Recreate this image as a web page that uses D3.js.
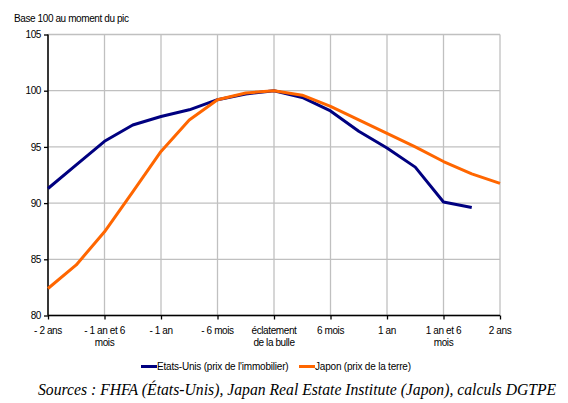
<!DOCTYPE html>
<html>
<head>
<meta charset="utf-8">
<script src="https://cdn.jsdelivr.net/npm/d3@7"></script>
<style>
  body { margin: 0; background: #fff; }
  svg { display: block; }
  .lbl { font-family: "Liberation Sans", Arial, sans-serif; font-size: 10px; letter-spacing: -0.4px; fill: #000; }
</style>
</head>
<body>
<svg width="568" height="403"></svg>
<script>
// trimestres, de -2 ans à +2 ans autour du pic
const quarters = d3.range(-8, 9);
const xTickLabels = ["- 2 ans", "- 1 an et 6|mois", "- 1 an", "- 6 mois", "éclatement|de la bulle", "6 mois", "1 an", "1 an et 6|mois", "2 ans"];
const yTicks = [80, 85, 90, 95, 100, 105];

const usValues = [91.3, 93.4, 95.5, 96.95, 97.7, 98.3, 99.2, 99.7, 100, 99.4, 98.2, 96.4, 94.9, 93.2, 90.1, 89.6];
const japanValues = [82.4, 84.5, 87.45, 91.0, 94.6, 97.4, 99.2, 99.8, 100, 99.6, 98.6, 97.4, 96.2, 95.0, 93.7, 92.6, 91.75];

const seriesNames = ["Etats-Unis (prix de l'immobilier)", "Japon (prix de la terre)"];
const colors = ["#000080", "#ff6600"];

const svg = d3.select("svg");
const mLeft = 48, mRight = 500, mTop = 34.5, mBottom = 315.5;

const x = d3.scaleLinear().domain([-8, 8]).range([mLeft, mRight]);
const y = d3.scaleLinear().domain([80, 105]).range([mBottom, mTop]);

// grille
const grid = svg.append("g");
grid.selectAll(".vg").data(d3.range(-8, 9, 2)).enter().append("line")
  .attr("x1", d => x(d)).attr("x2", d => x(d))
  .attr("y1", mTop).attr("y2", mBottom)
  .attr("stroke", "#c0c0c0").attr("stroke-width", 1.3);
grid.selectAll(".hg").data(yTicks).enter().append("line")
  .attr("x1", mLeft).attr("x2", mRight)
  .attr("y1", d => y(d)).attr("y2", d => y(d))
  .attr("stroke", "#c0c0c0").attr("stroke-width", 1.3);

// axe Y
const yAxis = svg.append("g")
  .attr("transform", "translate(" + mLeft + ",0)")
  .call(d3.axisLeft(y).tickValues(yTicks).tickSize(4).tickPadding(3));
yAxis.select(".domain").attr("stroke", "#000").attr("stroke-width", 1.5).attr("d", "M0," + mTop + "V" + mBottom);
yAxis.selectAll(".tick line").attr("stroke", "#000").attr("stroke-width", 1.3);
yAxis.selectAll(".tick text").attr("class", "lbl");
yAxis.attr("font-family", null).attr("font-size", null);

// axe X
const xAxis = svg.append("g")
  .attr("transform", "translate(0," + mBottom + ")")
  .call(d3.axisBottom(x).tickValues(d3.range(-8, 9, 2)).tickSize(4).tickFormat(""));
xAxis.select(".domain").attr("stroke", "#000").attr("stroke-width", 1.5).attr("d", "M" + mLeft + ",0H" + mRight);
xAxis.selectAll(".tick line").attr("stroke", "#000").attr("stroke-width", 1.3);

svg.append("g").selectAll("text").data(xTickLabels).enter().append("text")
  .attr("class", "lbl")
  .attr("text-anchor", "middle")
  .attr("x", (d, i) => x(-8 + i * 2))
  .attr("y", mBottom + 18)
  .each(function(d) {
    const xx = d3.select(this).attr("x");
    d3.select(this).selectAll("tspan").data(d.split("|")).enter().append("tspan")
      .attr("x", xx)
      .attr("dy", (p, j) => j === 0 ? 0 : 12.5)
      .text(p => p);
  });

// courbes
const line = d3.line().x((d, i) => x(quarters[i])).y(d => y(d));
[usValues, japanValues].forEach((vals, k) => {
  svg.append("path")
    .datum(vals)
    .attr("fill", "none")
    .attr("stroke", colors[k])
    .attr("stroke-width", 3)
    .attr("stroke-linejoin", "round")
    .attr("d", line);
});

// titre de l'axe
svg.append("text").attr("class", "lbl").attr("x", 14).attr("y", 22).text("Base 100 au moment du pic");

// légende
const legendX = [141, 299];
seriesNames.forEach((name, k) => {
  svg.append("line")
    .attr("x1", legendX[k]).attr("x2", legendX[k] + 16)
    .attr("y1", 366.5).attr("y2", 366.5)
    .attr("stroke", colors[k]).attr("stroke-width", 3);
  svg.append("text").attr("class", "lbl")
    .attr("x", legendX[k] + 16).attr("y", 370)
    .style("letter-spacing", "-0.2px")
    .text(name);
});

// sources
svg.append("text")
  .attr("x", 38).attr("y", 395)
  .attr("font-family", "'Liberation Serif', 'Times New Roman', serif")
  .attr("font-style", "italic")
  .attr("font-size", "15.7px")
  .text("Sources : FHFA (États-Unis), Japan Real Estate Institute (Japon), calculs DGTPE");
</script>
</body>
</html>
